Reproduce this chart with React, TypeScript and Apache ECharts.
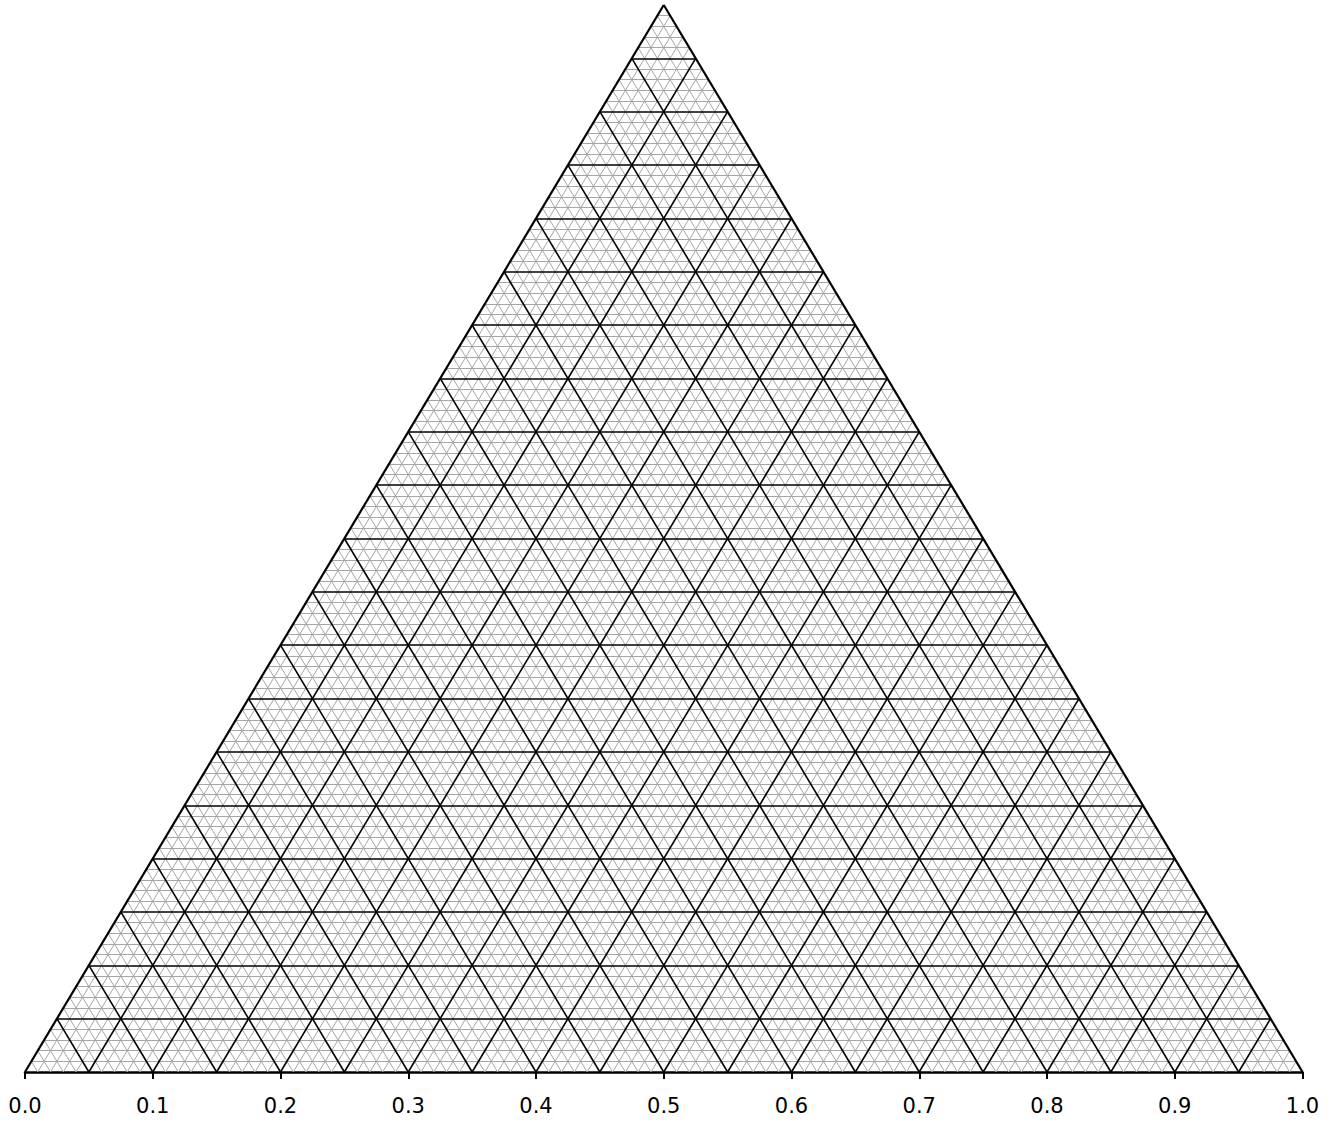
import React, { useEffect, useRef } from "react";
import * as echarts from "echarts";

// tick labels along the base
const tickValues = [0, 0.1, 0.2, 0.3, 0.4, 0.5, 0.6, 0.7, 0.8, 0.9, 1.0];
// grid subdivisions: minor every 0.01, major every 0.05
const minorSteps = 100;
const majorEvery = 5;

type Seg = { coords: number[][] };

function buildSegments() {
  const minor: Seg[] = [];
  const major: Seg[] = [];
  for (let k = 1; k < minorSteps; k++) {
    const a = k / minorSteps;
    const segs: Seg[] = [
      // horizontal line at height a
      { coords: [[a / 2, a], [1 - a / 2, a]] },
      // parallel to left edge, from base point a to right edge
      { coords: [[a, 0], [a + (1 - a) / 2, 1 - a]] },
      // parallel to right edge, from base point a to left edge
      { coords: [[a, 0], [a / 2, a]] },
    ];
    if (k % majorEvery === 0) major.push(...segs);
    else minor.push(...segs);
  }
  const outline: Seg[] = [
    { coords: [[0, 0], [0.5, 1]] },
    { coords: [[0.5, 1], [1, 0]] },
  ];
  return { minor, major, outline };
}

export default function App() {
  const ref = useRef<HTMLDivElement>(null);
  useEffect(() => {
    if (!ref.current) return;
    const chart = echarts.init(ref.current, undefined, { renderer: "svg" });
    const { minor, major, outline } = buildSegments();
    chart.setOption({
      animation: false,
      grid: { left: 25, right: 32.5, top: 5, bottom: 51, containLabel: false },
      xAxis: {
        type: "value",
        min: 0,
        max: 1,
        interval: 0.1,
        position: "bottom",
        axisLine: { show: true, lineStyle: { color: "#000", width: 2.5 } },
        axisTick: { show: true, length: 7, lineStyle: { color: "#000", width: 2 } },
        axisLabel: {
          show: true,
          margin: 23,
          color: "#000",
          fontSize: 21,
          fontFamily: "DejaVu Sans",
          formatter: (v: number) => {
            const t = tickValues.find((x) => Math.abs(x - v) < 1e-9);
            return t === undefined ? "" : t.toFixed(1);
          },
        },
        splitLine: { show: false },
      },
      yAxis: {
        type: "value",
        min: 0,
        max: 1,
        show: false,
        splitLine: { show: false },
      },
      series: [
        {
          type: "lines",
          coordinateSystem: "cartesian2d",
          silent: true,
          lineStyle: { color: "#a6a6a6", width: 1, opacity: 1 },
          data: minor,
          z: 1,
        },
        {
          type: "lines",
          coordinateSystem: "cartesian2d",
          silent: true,
          lineStyle: { color: "#000", width: 1.6, opacity: 1 },
          data: major,
          z: 2,
        },
        {
          type: "lines",
          coordinateSystem: "cartesian2d",
          silent: true,
          lineStyle: { color: "#000", width: 2.2, opacity: 1 },
          data: outline,
          z: 3,
        },
      ],
    });
    return () => chart.dispose();
  }, []);
  return (
    <div
      ref={ref}
      style={{ position: "fixed", left: 0, top: 0, width: 1335, height: 1123, background: "#fff" }}
    />
  );
}
